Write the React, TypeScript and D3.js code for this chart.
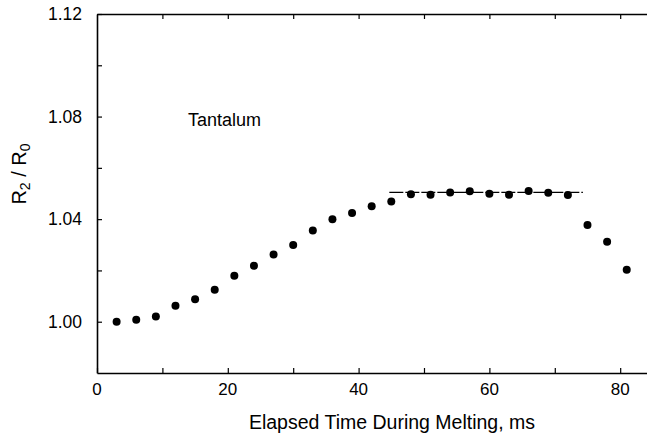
import React, { useEffect, useRef } from 'react';
import * as d3 from 'd3';

// Elapsed time (ms) and resistance ratio R2/R0
const times = [3, 6, 9, 12, 15, 18, 21, 24, 27, 30, 33, 36, 39, 42, 45, 48, 51, 54, 57, 60, 63, 66, 69, 72, 75, 78, 81];
const ratios = [
  1.0, 1.0008, 1.002, 1.0062, 1.0088, 1.0125, 1.0179, 1.0218, 1.0262, 1.0299, 1.0356, 1.04, 1.0424, 1.045,
  1.0469, 1.0497, 1.0495, 1.0504, 1.0509, 1.0499, 1.0495, 1.051, 1.0503, 1.0494, 1.0377, 1.0312, 1.0203,
];
// plateau line
const plateauX = [44.7, 74.3];
const plateauY = 1.0504;

const xTicks = [0, 10, 20, 30, 40, 50, 60, 70, 80];
const xLabels = [0, 20, 40, 60, 80];
const yTicks = [1.0, 1.02, 1.04, 1.06, 1.08, 1.1, 1.12];
const yLabels = [1.0, 1.04, 1.08, 1.12];

const W = 647;
const H = 435;
const margin = { top: 14, right: 0, bottom: 62, left: 97 };

const App = () => {
  const ref = useRef<SVGSVGElement>(null);

  useEffect(() => {
    const svg = d3.select(ref.current);
    svg.selectAll('*').remove();
    const font = 'Liberation Sans, Arial, Helvetica, sans-serif';

    const x = d3.scaleLinear().domain([0, 84.1]).range([margin.left, W - margin.right]);
    const y = d3.scaleLinear().domain([0.98, 1.12]).range([H - margin.bottom, margin.top]);

    // Bottom axis
    const bottom = svg
      .append('g')
      .attr('transform', `translate(0,${y(0.98)})`)
      .call(d3.axisBottom(x).tickValues(xTicks).tickSizeInner(-5).tickSizeOuter(0).tickFormat(() => ''));
    bottom.select('.domain').attr('stroke-width', 1.6);
    bottom.selectAll('.tick line').attr('stroke-width', 1.2);

    svg
      .append('g')
      .selectAll('text')
      .data(xLabels)
      .join('text')
      .attr('x', d => x(d))
      .attr('y', 395)
      .attr('text-anchor', 'middle')
      .attr('font-family', font)
      .attr('font-size', 17)
      .text(d => d);

    // Top axis
    const top = svg
      .append('g')
      .attr('transform', `translate(0,${y(1.12)})`)
      .call(d3.axisTop(x).tickValues(xTicks.slice(1)).tickSizeInner(-5).tickSizeOuter(0).tickFormat(() => ''));
    top.select('.domain').attr('stroke-width', 1.6);
    top.selectAll('.tick line').attr('stroke-width', 1.2);

    // Left axis
    const left = svg
      .append('g')
      .attr('transform', `translate(${x(0)},0)`)
      .call(d3.axisLeft(y).tickValues(yTicks).tickSizeInner(-5).tickSizeOuter(0).tickFormat(() => ''));
    left.select('.domain').attr('stroke-width', 1.6);
    left.selectAll('.tick line').attr('stroke-width', 1.2);

    svg
      .append('g')
      .selectAll('text')
      .data(yLabels)
      .join('text')
      .attr('x', 82)
      .attr('y', d => y(d))
      .attr('dy', '0.35em')
      .attr('text-anchor', 'end')
      .attr('font-family', font)
      .attr('font-size', 17.5)
      .text(d => d3.format('.2f')(d));

    // Axis titles
    svg
      .append('text')
      .attr('x', 392)
      .attr('y', 429)
      .attr('text-anchor', 'middle')
      .attr('font-family', font)
      .attr('font-size', 19.5)
      .text('Elapsed Time During Melting, ms');

    const yt = svg
      .append('text')
      .attr('transform', `translate(26,174) rotate(-90)`)
      .attr('text-anchor', 'middle')
      .attr('font-family', font)
      .attr('font-size', 20);
    yt.append('tspan').text('R');
    yt.append('tspan').attr('font-size', 14).attr('dy', 4).text('2');
    yt.append('tspan').attr('dy', -4).text(' / R');
    yt.append('tspan').attr('font-size', 14).attr('dy', 4).text('0');

    // Label
    svg
      .append('text')
      .attr('x', 188)
      .attr('y', 126)
      .attr('font-family', font)
      .attr('font-size', 18)
      .text('Tantalum');

    // Plateau dashed line
    svg
      .append('line')
      .attr('x1', x(plateauX[0]))
      .attr('x2', x(plateauX[1]))
      .attr('y1', y(plateauY))
      .attr('y2', y(plateauY))
      .attr('stroke', '#000')
      .attr('stroke-width', 1.2)
      .attr('stroke-dasharray', '14,2');

    // Points
    svg
      .append('g')
      .selectAll('circle')
      .data(times)
      .join('circle')
      .attr('cx', d => x(d))
      .attr('cy', (_, i) => y(ratios[i]))
      .attr('r', 4)
      .attr('fill', '#000');
  }, []);

  return (
    <svg
      ref={ref}
      width={W}
      height={H}
      style={{ position: 'absolute', left: 0, top: 0, background: '#fff' }}
    />
  );
};

export default App;
